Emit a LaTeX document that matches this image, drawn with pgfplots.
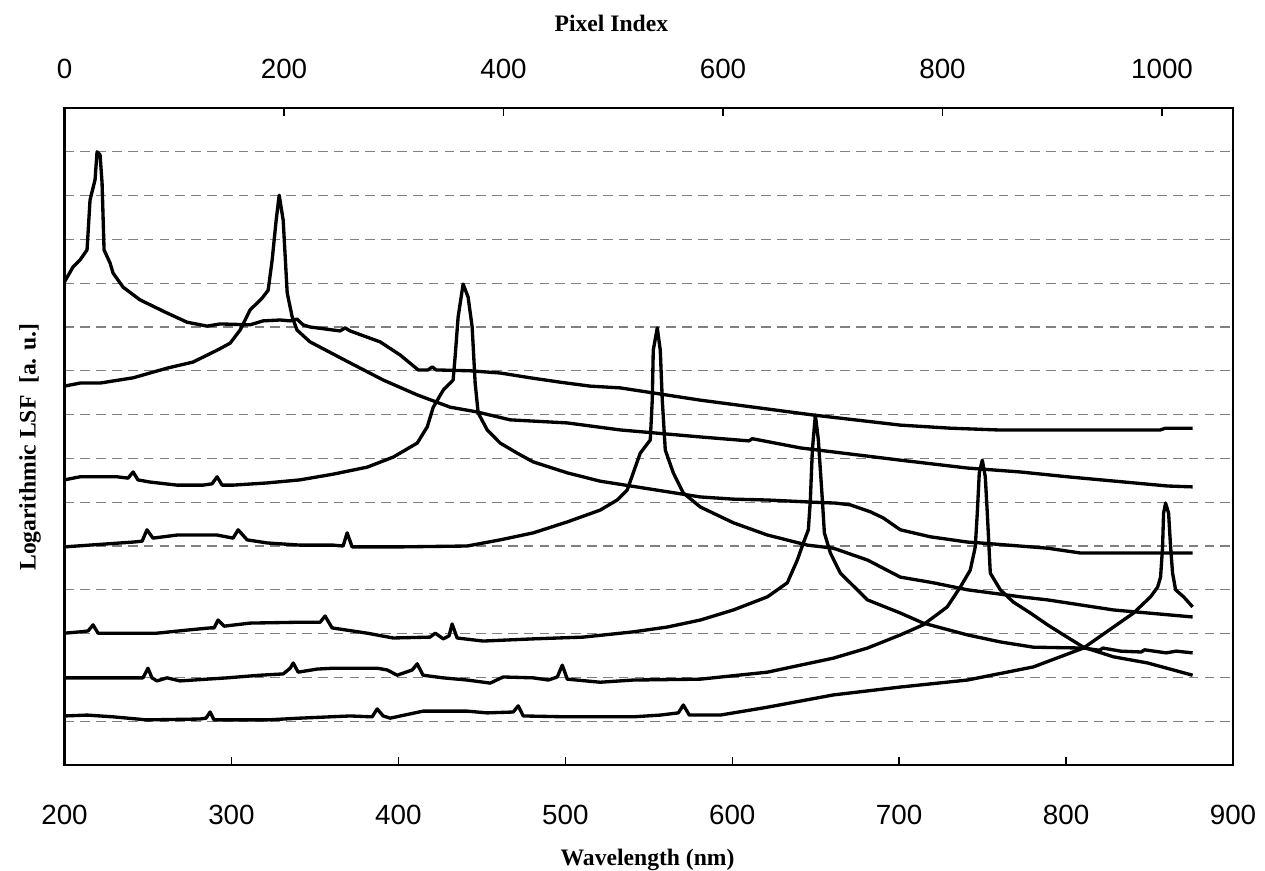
\documentclass[border=0pt]{standalone}
\usepackage{fontspec}
\setmainfont{Liberation Sans}
\newfontfamily\tnr{Liberation Serif}
\usepackage{pgfplots}
\pgfplotsset{compat=1.18}
\begin{document}
\begin{tikzpicture}
\pgfplotsset{
  every axis/.append style={scale only axis, width=420.66pt, height=236.52pt,
    ymin=0, ymax=15, tick align=inside, major tick length=3pt,
    tick style={black, line width=0.5pt},
    ticklabel style={font=\fontsize{10}{12}\selectfont},
    label style={font=\tnr\bfseries\fontsize{8.5}{10}\selectfont}},
  lsf/.style={black, solid, mark=none, line width=1.2pt, line join=round},
}
\begin{axis}[name=ax, xmin=200, xmax=900,
  xtick={200,300,...,900}, xticklabels={200,300,400,500,600,700,800,900},
  xtick pos=bottom,
  ytick={1,...,14}, yticklabels={}, y tick style={draw=none},
  ymajorgrids, grid style={line width=0.4pt, draw=black!50, dash pattern=on 3.5pt off 2.2pt},
  axis line style={line width=0.8pt},
  xticklabel style={yshift=-11pt},
  xlabel={Wavelength (nm)},
  xlabel style={at={([yshift=-34pt]axis description cs:0.499,0)}, anchor=center},
  ylabel={Logarithmic LSF\ \ [a. u.]},
  ylabel style={at={([xshift=-12.4pt]axis description cs:0,0.484)}, anchor=center},
]
% peak 220 nm
\addplot[lsf] coordinates {(200,11.03) (205.1,11.37) (209.3,11.53) (213.5,11.76) (215.3,12.90) (218.3,13.36) (219.5,14.00) (221.3,13.93) (222.5,13.29) (223.7,11.76) (227.3,11.46) (229.1,11.23) (235.1,10.91) (245.2,10.62) (261.4,10.32) (273.4,10.11) (285.4,10.02) (293.2,10.07) (311.2,10.05) (319.0,10.14) (329.2,10.16) (335.2,10.14) (339.3,10.18) (342.9,10.05) (347.1,10.00) (365.1,9.91) (368.1,9.98) (371.1,9.91) (389.1,9.66) (401.1,9.36) (411.9,9.02) (417.8,9.02) (420.3,9.09) (422.6,9.02) (443.0,9.00) (461.0,8.95) (479.0,8.84) (497.0,8.74) (514.9,8.65) (532.9,8.61) (580.9,8.33) (648.6,7.99) (700.7,7.76) (730.7,7.69) (758.8,7.65) (856.5,7.65) (859.6,7.69) (875.8,7.69)};
% peak 330 nm
\addplot[lsf] coordinates {(200,8.65) (209.3,8.72) (221.3,8.72) (241.1,8.84) (261.4,9.06) (277.0,9.20) (291.4,9.47) (299.2,9.63) (305.2,9.93) (311.2,10.39) (318.4,10.66) (322.0,10.84) (324.4,11.53) (326.8,12.44) (328.6,13.01) (331.0,12.44) (333.4,10.78) (336.4,10.23) (339.3,9.93) (347.1,9.66) (353.1,9.54) (371.1,9.18) (390.9,8.79) (411.3,8.45) (431.0,8.17) (447.2,8.06) (467.0,7.88) (501.2,7.81) (532.9,7.65) (580.9,7.49) (610.0,7.40) (612.0,7.45) (640.8,7.24) (700.7,6.96) (740.9,6.78) (772.7,6.69) (800.9,6.58) (860.8,6.37) (875.8,6.35)};
% peak 440 nm
\addplot[lsf] coordinates {(200,6.51) (209.3,6.58) (231.5,6.58) (238.1,6.55) (241.1,6.69) (244.0,6.51) (251.2,6.46) (267.4,6.39) (283.0,6.39) (288.4,6.42) (291.4,6.58) (294.4,6.39) (301.0,6.39) (321.4,6.44) (341.1,6.51) (360.9,6.64) (381.3,6.80) (396.9,7.03) (411.3,7.35) (417.3,7.72) (420.9,8.17) (426.9,8.56) (432.8,8.79) (434.0,9.32) (435.8,10.23) (438.8,10.98) (441.8,10.68) (444.2,10.00) (446.0,8.72) (447.8,8.04) (453.2,7.65) (461.0,7.35) (471.2,7.12) (480.8,6.92) (501.2,6.67) (520.9,6.48) (580.9,6.12) (600.7,6.07) (621.1,6.05) (648.6,6.00) (661.8,5.98) (670.7,5.94) (682.8,5.78) (690.5,5.64) (700.7,5.37) (718.7,5.21) (740.9,5.09) (748.7,5.07) (788.9,4.95) (808.6,4.84) (875.8,4.84)};
% peak 555 nm
\addplot[lsf] coordinates {(200,4.98) (241.1,5.09) (246.5,5.11) (249.4,5.37) (253.0,5.18) (267.4,5.25) (291.4,5.25) (301.0,5.18) (304.0,5.37) (309.4,5.14) (321.4,5.07) (341.1,5.02) (360.9,5.02) (366.9,5.00) (369.3,5.30) (372.3,4.98) (401.1,4.98) (441.2,5.00) (461.0,5.14) (480.8,5.30) (501.2,5.55) (520.9,5.82) (531.1,6.05) (537.1,6.28) (540.7,6.67) (544.9,7.12) (550.9,7.42) (552.1,8.33) (552.7,9.47) (555.1,9.98) (556.9,9.47) (558.1,8.33) (559.9,7.19) (564.7,6.67) (570.7,6.21) (580.9,5.89) (600.7,5.53) (621.1,5.25) (645.1,5.02) (660.6,4.95) (681.0,4.68) (700.7,4.29) (720.5,4.16) (740.9,4.00) (772.7,3.84) (788.9,3.77) (828.4,3.54) (875.8,3.38)};
% peak 650 nm
\addplot[lsf] coordinates {(200,3.01) (209.3,3.04) (214.1,3.06) (217.1,3.20) (220.1,3.01) (231.5,3.01) (255.4,3.01) (273.4,3.08) (287.2,3.13) (289.6,3.13) (292.0,3.31) (295.6,3.17) (311.2,3.24) (341.1,3.26) (353.1,3.26) (356.1,3.40) (360.3,3.13) (381.3,3.01) (396.9,2.90) (419.0,2.92) (422.1,3.01) (426.9,2.88) (430.4,2.95) (432.2,3.22) (435.2,2.90) (450.8,2.83) (480.8,2.88) (510.7,2.92) (540.7,3.04) (561.1,3.15) (580.9,3.31) (600.7,3.54) (621.1,3.84) (633.0,4.16) (639.0,4.68) (642.6,5.07) (645.6,5.37) (646.8,6.05) (648.0,7.19) (649.8,7.99) (651.6,7.42) (654.0,6.05) (655.2,5.30) (658.8,4.84) (664.8,4.38) (681.0,3.77) (700.7,3.47) (714.4,3.24) (740.9,2.97) (760.6,2.81) (780.4,2.69) (810.4,2.67) (820.0,2.62) (822.0,2.67) (832.6,2.60) (845.0,2.58) (847.0,2.63) (860.0,2.56) (866.0,2.60) (875.8,2.56)};
% peak 750 nm
\addplot[lsf] coordinates {(200,1.99) (247.0,1.99) (248.8,2.12) (250.0,2.21) (252.4,1.99) (255.4,1.92) (261.4,1.99) (269.2,1.92) (297.4,1.99) (317.2,2.05) (331.0,2.08) (335.2,2.21) (337.0,2.33) (340.0,2.12) (351.3,2.19) (360.9,2.21) (387.3,2.21) (393.3,2.17) (399.3,2.05) (408.3,2.17) (411.3,2.31) (414.8,2.05) (426.8,1.99) (441.2,1.94) (455.0,1.87) (462.8,2.01) (480.8,1.99) (489.8,1.94) (495.2,2.01) (498.2,2.28) (501.2,1.96) (520.9,1.89) (540.7,1.94) (580.9,1.96) (621.1,2.12) (660.6,2.44) (681.0,2.67) (700.7,2.97) (714.4,3.20) (728.8,3.61) (736.6,4.06) (742.6,4.45) (745.6,4.98) (746.8,5.75) (748.0,6.67) (749.8,6.96) (751.6,6.58) (752.8,5.75) (754.6,4.38) (760.6,4.00) (768.4,3.72) (778.6,3.47) (788.9,3.20) (798.5,2.97) (810.4,2.69) (828.4,2.47) (848.8,2.33) (875.8,2.05)};
% peak 860 nm
\addplot[lsf] coordinates {(200,1.12) (213.5,1.14) (229.1,1.10) (249.4,1.03) (281.2,1.05) (284.8,1.07) (287.2,1.21) (289.6,1.03) (321.4,1.03) (341.1,1.07) (371.1,1.12) (384.3,1.10) (387.3,1.28) (390.9,1.12) (395.1,1.07) (414.8,1.23) (441.2,1.23) (453.2,1.19) (468.8,1.21) (471.8,1.35) (474.8,1.12) (501.2,1.10) (540.7,1.10) (556.9,1.14) (567.7,1.19) (570.7,1.37) (574.3,1.14) (592.9,1.14) (621.1,1.32) (660.6,1.60) (700.7,1.78) (740.9,1.94) (780.4,2.24) (810.4,2.67) (840.4,3.47) (850.6,3.84) (854.8,4.06) (856.6,4.29) (857.8,4.98) (858.4,5.75) (859.6,5.98) (861.4,5.75) (862.6,4.98) (863.8,4.38) (865.6,4.00) (870.4,3.84) (875.8,3.61)};
\end{axis}
\begin{axis}[xmin=0, xmax=1064.7, axis x line*=top, axis y line=none,
  xtick={0,200,...,1000}, xticklabels={0,200,400,600,800,1000},
  xticklabel style={yshift=6.9pt},
  axis line style={line width=0.8pt},
  xlabel={Pixel Index},
  xlabel style={at={([yshift=30.3pt]axis description cs:0.468,1)}, anchor=center},
]
\end{axis}
\pgfresetboundingbox
\path ([xshift=-23.22pt,yshift=-37.8pt]ax.south west) rectangle ([xshift=11.52pt,yshift=38.88pt]ax.north east);
\end{tikzpicture}
\end{document}
